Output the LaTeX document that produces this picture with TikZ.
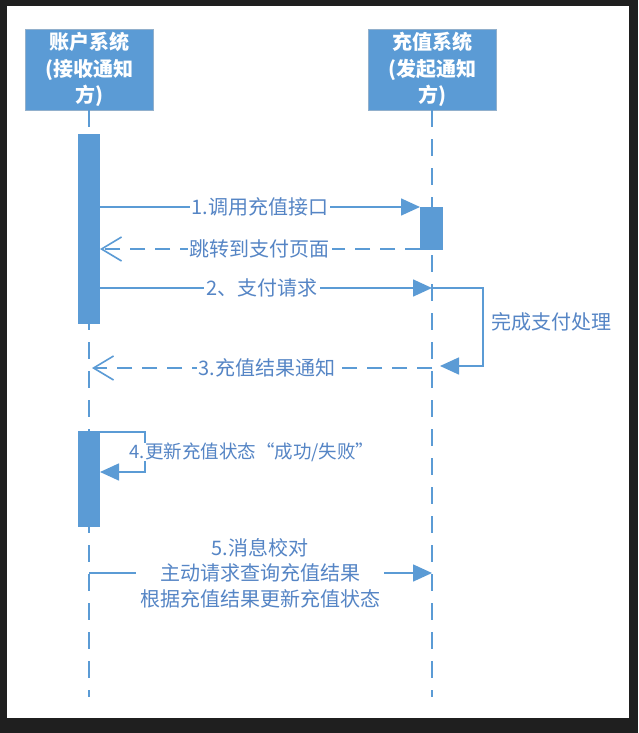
\documentclass[tikz,border=0pt]{standalone}
\usepackage{fontspec}
\setmainfont{Noto Sans CJK SC}
\usetikzlibrary{arrows.meta,shadows}
\definecolor{bl}{HTML}{5B9BD5}
\definecolor{tx}{HTML}{5585C5}
\definecolor{frame}{HTML}{1F1F1F}
\begin{document}
\begin{tikzpicture}[x=1pt,y=-1pt,
  hdr/.style={draw=bl!80!black!60!white, fill=bl, line width=0.8pt, minimum width=128pt, minimum height=81pt,
     inner sep=0pt, text=white, font=\fontsize{20}{26.5}\selectfont\bfseries, align=center,
     drop shadow={opacity=0.18, shadow xshift=1pt, shadow yshift=-1.5pt}},
  act/.style={fill=bl, draw=none, inner sep=0pt, minimum width=22pt},
  life/.style={bl, line width=2.4pt, dash pattern=on 17pt off 12pt},
  msg/.style={bl, line width=1.6pt, -{Triangle[length=19pt,width=17pt]}},
  ret/.style={bl, line width=1.8pt, dash pattern=on 15pt off 10pt, -{Straight Barb[length=20pt,width=24pt,line width=1.6pt]}},
  lbl/.style={fill=white, inner xsep=2pt, inner ysep=1pt, text=tx, font=\fontsize{20}{25.5}\selectfont, align=center},
  note/.style={inner sep=0pt, text=tx, font=\fontsize{20}{25.5}\selectfont}]
\useasboundingbox (0,0) rectangle (638,733);
\fill[frame] (0,0) rectangle (638,733);
\fill[white] (7,6) rectangle (629,718);

% headers
\node[hdr] (A) at (89,69.5) {账户系统\\(接收通知\\方)};
\node[hdr] (B) at (432,69.5) {充值系统\\(发起通知\\方)};

% lifelines
\coordinate (Aend) at (89,697);
\coordinate (Bend) at (432,697);
\draw[life] (A.south) -- (Aend);
\draw[life] (B.south) -- (Bend);

% activations
\node[act, minimum height=190pt] (a1) at (89,229) {};
\node[act, minimum height=96pt] (a2) at (89,479) {};
\node[act, minimum width=23pt, minimum height=43pt] (b1) at (431.5,228.5) {};

% message points
\coordinate (m1s) at (100,207);  \coordinate (m1e) at (420,207);
\coordinate (r1s) at (420,249);  \coordinate (r1e) at (100,249);
\coordinate (m2s) at (100,288);  \coordinate (m2e) at (432,288);
\coordinate (p1) at (483,288);   \coordinate (p2) at (483,366);  \coordinate (p3) at (440,366);
\coordinate (r3s) at (432,368);  \coordinate (r3e) at (92,368);
\coordinate (q0) at (100,432);   \coordinate (q1) at (145,432);  \coordinate (q2) at (145,472); \coordinate (q3) at (100,472);
\coordinate (m5s) at (89,573);   \coordinate (m5e) at (432,573);

\draw[msg] (m1s) -- (m1e);
\node[lbl] (l1) at (260,207) {1.调用充值接口};
\draw[ret] (r1s) -- (r1e);
\node[lbl] (l2) at (259.5,249) {跳转到支付页面};
\draw[msg] (m2s) -- (m2e);
\node[lbl] (l3) at (262,288) {2、支付请求};
\draw[msg] (m2e) -- (p1) -- (p2) -- (p3);
\node[note] (l4) at (551.5,322) {完成支付处理};
\draw[ret] (r3s) -- (r3e);
\node[lbl] (l5) at (267,368) {3.充值结果通知};
\draw[msg] (q0) -- (q1) -- (q2) -- (q3);
\node[lbl, font=\fontsize{18.5}{24}\selectfont, inner ysep=0pt] (l6) at (252,452) {4.更新充值状态“成功/失败”};
\draw[msg] (m5s) -- (m5e);
\node[lbl, inner xsep=4pt] (l7) at (260,573) {5.消息校对\\主动请求查询充值结果\\根据充值结果更新充值状态};
\end{tikzpicture}
\end{document}
